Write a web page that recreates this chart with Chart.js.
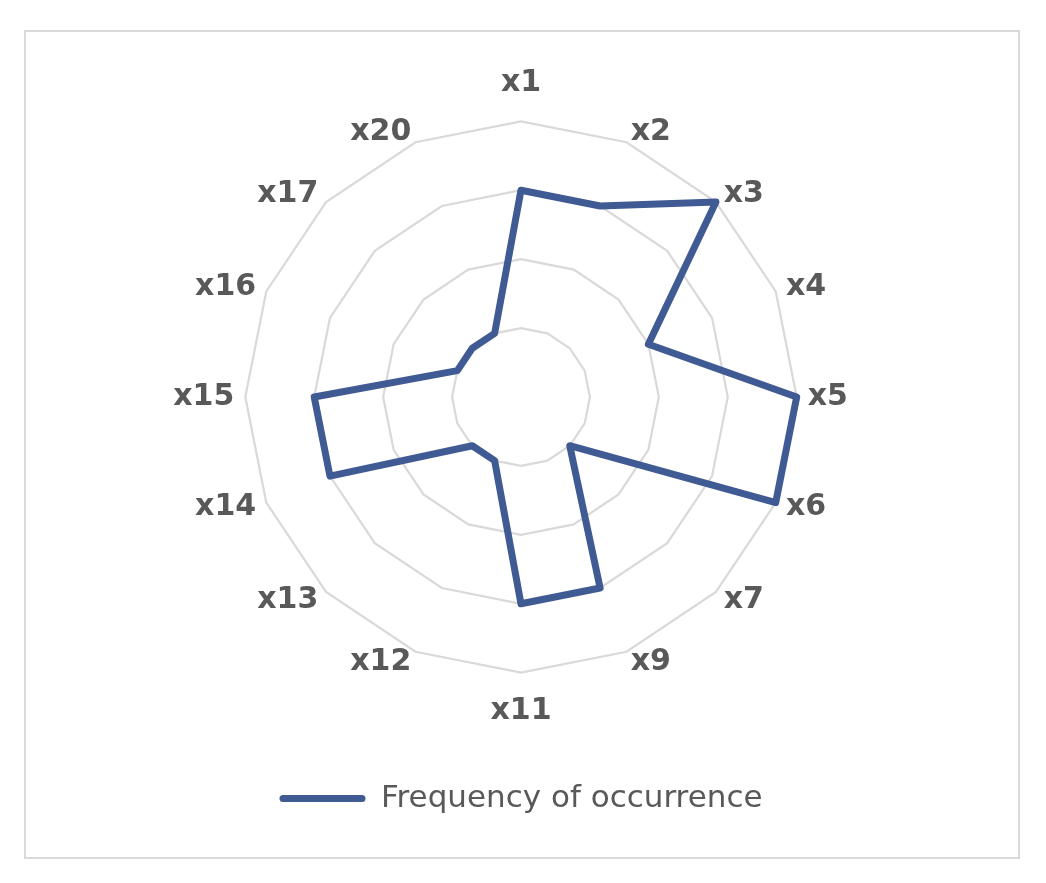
<!DOCTYPE html>
<html>
<head>
<meta charset="utf-8">
<script src="https://cdn.jsdelivr.net/npm/chart.js@4.4.1/dist/chart.umd.min.js"></script>
<style>
  html, body { margin: 0; padding: 0; background: #ffffff; }
  #wrap { position: relative; width: 1046px; height: 883px; }
  #frame {
    position: absolute; left: 24px; top: 30px; width: 996px; height: 829px;
    box-sizing: border-box; border: 2px solid #d9d9d9;
  }
  #radarChart { position: absolute; left: 0; top: 0; }
</style>
</head>
<body>
<div id="wrap">
  <div id="frame"></div>
  <canvas id="radarChart" width="1046" height="883"></canvas>
</div>
<script>
// カテゴリと値
const categories = ['x1', 'x2', 'x3', 'x4', 'x5', 'x6', 'x7', 'x9', 'x11', 'x12', 'x13', 'x14', 'x15', 'x16', 'x17', 'x20'];
const frequency = [3, 3, 4, 2, 4, 4, 1, 3, 3, 1, 1, 3, 3, 1, 1, 1];
const seriesName = 'Frequency of occurrence';
const scaleMin = 0;
const scaleMax = 4;

const lineColor = '#405a93';
const textColor = '#595959';

var ctx = document.getElementById('radarChart').getContext('2d');
var radarChart = new Chart(ctx, {
    type: 'radar',
    data: {
        labels: categories,
        datasets: [{
            label: seriesName,
            data: frequency,
            fill: false,
            borderColor: lineColor,
            backgroundColor: lineColor,
            borderWidth: 7,
            borderJoinStyle: 'round',
            pointRadius: 0,
            pointHoverRadius: 0,
            tension: 0
        }]
    },
    options: {
        responsive: false,
        animation: false,
        layout: {
            padding: { top: 83, bottom: 59, left: 100, right: 104 }
        },
        scales: {
            r: {
                min: scaleMin,
                max: scaleMax,
                ticks: { display: false, stepSize: 1 },
                angleLines: { display: false },
                grid: { color: '#d9d9d9', lineWidth: 2.2 },
                pointLabels: {
                    color: textColor,
                    // 上下のラベルは少し遠くに
                    padding: function(c) { return c.index % 8 === 0 ? 38 : 11; },
                    font: { family: 'DejaVu Sans', size: 30, weight: 'bold', lineHeight: 0.01 }
                }
            }
        },
        plugins: {
            legend: {
                position: 'bottom',
                labels: {
                    color: textColor,
                    font: { family: 'DejaVu Sans', size: 31 },
                    boxWidth: 86,
                    boxHeight: 7,
                    padding: 72,
                    useBorderRadius: true,
                    borderRadius: 3.5,
                    generateLabels: function(chart) {
                        const items = Chart.defaults.plugins.legend.labels.generateLabels(chart);
                        items.forEach(function(it) { it.lineWidth = 0; it.fillStyle = lineColor; });
                        return items;
                    }
                }
            },
            tooltip: { enabled: false }
        }
    }
});
</script>
</body>
</html>
